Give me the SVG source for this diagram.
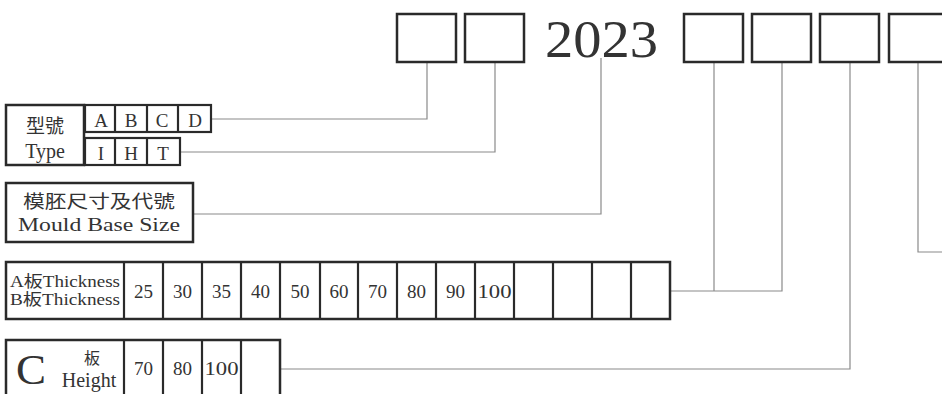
<svg xmlns="http://www.w3.org/2000/svg" width="942" height="394" viewBox="0 0 942 394">
<style>
.box{fill:#fff;stroke:#2a2a2a;stroke-width:2.5}
.cell{fill:none;stroke:#2a2a2a;stroke-width:2.2}
.ln{fill:none;stroke:#8a8a8a;stroke-width:1.2}
text{font-family:"Liberation Serif","Noto Sans CJK TC",serif;fill:#333}
.n{font-size:19px;text-anchor:middle}
</style>
<rect width="942" height="394" fill="#fff"/>
<g id="connectors">
<polyline class="ln" points="211,119 427,119 427,62"/>
<polyline class="ln" points="180,152 495,152 495,62"/>
<polyline class="ln" points="193,214 601,214 601,58"/>
<polyline class="ln" points="670,291 782,291 782,62"/>
<line class="ln" x1="714" y1="62" x2="714" y2="291"/>
<polyline class="ln" points="280,369 850,369 850,62"/>
<polyline class="ln" points="918,62 918,252 942,252"/>
</g>
<g id="code">
<rect class="box" x="397" y="14" width="59" height="48"/>
<rect class="box" x="465" y="14" width="59" height="48"/>
<text x="545" y="57" font-size="52" textLength="113" lengthAdjust="spacingAndGlyphs" fill="#222">2023</text>
<rect class="box" x="684" y="14" width="59" height="48"/>
<rect class="box" x="752" y="14" width="59" height="48"/>
<rect class="box" x="820" y="14" width="59" height="48"/>
<rect class="box" x="889" y="14" width="59" height="48"/>
</g>
<g id="type">
<rect class="box" x="6" y="105" width="78" height="60"/>
<text x="45" y="133" font-size="19" text-anchor="middle">型號</text>
<text x="45" y="158" font-size="20" text-anchor="middle">Type</text>
<rect class="cell" x="85" y="105" width="126" height="27"/>
<line class="cell" x1="115" y1="105" x2="115" y2="132"/>
<line class="cell" x1="147" y1="105" x2="147" y2="132"/>
<line class="cell" x1="178" y1="105" x2="178" y2="132"/>
<text class="n" x="101" y="127">A</text>
<text class="n" x="131" y="127">B</text>
<text class="n" x="162" y="127">C</text>
<text class="n" x="195" y="127">D</text>
<rect class="cell" x="85" y="138" width="95" height="27"/>
<line class="cell" x1="115" y1="138" x2="115" y2="165"/>
<line class="cell" x1="147" y1="138" x2="147" y2="165"/>
<text class="n" x="101" y="160">I</text>
<text class="n" x="131" y="160">H</text>
<text class="n" x="163" y="160">T</text>
</g>
<g id="size">
<rect class="box" x="6" y="183" width="187" height="59"/>
<text x="99" y="208" font-size="18" text-anchor="middle" textLength="152" lengthAdjust="spacingAndGlyphs">模胚尺寸及代號</text>
<text x="99" y="231" font-size="19" text-anchor="middle" textLength="162" lengthAdjust="spacingAndGlyphs">Mould Base Size</text>
</g>
<g id="thickness">
<rect class="box" x="6" y="262" width="664" height="57"/>
<text x="10" y="287" font-size="16" textLength="110" lengthAdjust="spacingAndGlyphs">A板Thickness</text>
<text x="10" y="305" font-size="16" textLength="110" lengthAdjust="spacingAndGlyphs">B板Thickness</text>
<g class="cell">
<line x1="124" y1="262" x2="124" y2="319"/>
<line x1="163" y1="262" x2="163" y2="319"/>
<line x1="202" y1="262" x2="202" y2="319"/>
<line x1="241" y1="262" x2="241" y2="319"/>
<line x1="280" y1="262" x2="280" y2="319"/>
<line x1="320" y1="262" x2="320" y2="319"/>
<line x1="358" y1="262" x2="358" y2="319"/>
<line x1="397" y1="262" x2="397" y2="319"/>
<line x1="436" y1="262" x2="436" y2="319"/>
<line x1="475" y1="262" x2="475" y2="319"/>
<line x1="514" y1="262" x2="514" y2="319"/>
<line x1="553" y1="262" x2="553" y2="319"/>
<line x1="592" y1="262" x2="592" y2="319"/>
<line x1="631" y1="262" x2="631" y2="319"/>
</g>
<text class="n" x="143.5" y="298">25</text>
<text class="n" x="182.5" y="298">30</text>
<text class="n" x="221.5" y="298">35</text>
<text class="n" x="260.5" y="298">40</text>
<text class="n" x="300" y="298">50</text>
<text class="n" x="339" y="298">60</text>
<text class="n" x="377.5" y="298">70</text>
<text class="n" x="416.5" y="298">80</text>
<text class="n" x="455.5" y="298">90</text>
<text class="n" x="494.5" y="298" textLength="34" lengthAdjust="spacingAndGlyphs">100</text>
</g>
<g id="cplate">
<rect class="box" x="6" y="340" width="274" height="60"/>
<text x="16" y="384" font-size="42" textLength="30" lengthAdjust="spacingAndGlyphs">C</text>
<text x="92" y="364" font-size="16" text-anchor="middle">板</text>
<text x="89" y="387" font-size="20" text-anchor="middle">Height</text>
<g class="cell">
<line x1="124" y1="340" x2="124" y2="394"/>
<line x1="163" y1="340" x2="163" y2="394"/>
<line x1="202" y1="340" x2="202" y2="394"/>
<line x1="241" y1="340" x2="241" y2="394"/>
</g>
<text class="n" x="143.5" y="375">70</text>
<text class="n" x="182.5" y="375">80</text>
<text class="n" x="221.5" y="375" textLength="34" lengthAdjust="spacingAndGlyphs">100</text>
</g>
</svg>
